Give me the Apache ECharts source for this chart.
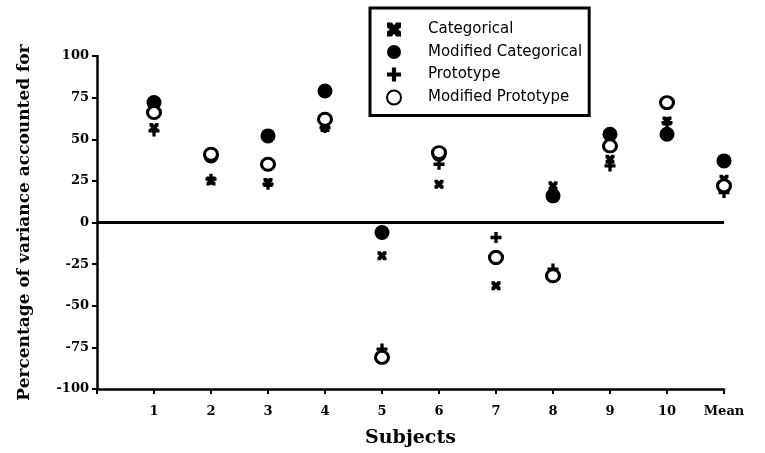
<!DOCTYPE html>
<html>
<head>
<meta charset="utf-8">
<script src="https://cdn.jsdelivr.net/npm/echarts@6/dist/echarts.min.js"></script>
<style>
  html, body { margin: 0; padding: 0; background: #fff; }
  #chart { width: 765px; height: 453px; }
</style>
</head>
<body>
<div id="chart"></div>
<script>
// subjects 1..10 plus the mean (x = 11)
var subjects = ['1', '2', '3', '4', '5', '6', '7', '8', '9', '10', 'Mean'];
var yTicks = [-100, -75, -50, -25, 0, 25, 50, 75, 100];

var categorical    = [57, 25, 24, 57, -20, 23, -38, 22, 38, 61, 26];
var modCategorical = [72, 40, 52, 79, -6, 41, -21, 16, 53, 53, 37];
var prototype      = [55, 26, 23, 57, -76, 35, -9, -28, 34, 60, 18];
var modPrototype   = [66, 41, 35, 62, -81, 42, -21, -32, 46, 72, 22];

var crossX = 'path://M0,0 L3.5,0 L5,2 L6.5,0 L10,0 L10,3.5 L8,5 L10,6.5 L10,10 L6.5,10 L5,8 L3.5,10 L0,10 L0,6.5 L2,5 L0,3.5 Z';
var plus = 'path://M3.5,0 L6.5,0 L6.5,3.5 L10,3.5 L10,6.5 L6.5,6.5 L6.5,10 L3.5,10 L3.5,6.5 L0,6.5 L0,3.5 L3.5,3.5 Z';

function pts(arr) {
    return arr.map(function (v, i) { return [i + 1, v]; });
}

var serif = '"DejaVu Serif", "Liberation Serif", serif';

var option = {
    animation: false,
    backgroundColor: '#fff',
    grid: { left: 97, right: 41, top: 56, bottom: 64 },
    legend: {
        orient: 'vertical',
        left: 370,
        top: 8,
        data: ['Categorical', 'Modified Categorical', 'Prototype', 'Modified Prototype'],
        itemWidth: 30,
        itemHeight: 14,
        itemGap: 7.5,
        padding: [14, 7, 10, 16],
        borderColor: '#000',
        borderWidth: 3,
        borderRadius: 0,
        textStyle: {
            color: '#000',
            fontSize: 15,
            lineHeight: 14,
            fontFamily: '"DejaVu Sans", sans-serif',
            padding: [0, 0, 0, 14]
        }
    },
    xAxis: {
        type: 'value',
        min: 0,
        max: 11,
        interval: 1,
        name: 'Subjects',
        nameLocation: 'middle',
        nameGap: 40,
        nameTextStyle: { color: '#000', fontSize: 19, fontWeight: 'bold', fontFamily: serif },
        axisLine: { onZero: false, lineStyle: { color: '#000', width: 2.5 } },
        axisTick: { inside: false, length: 5, lineStyle: { color: '#000', width: 2 } },
        axisLabel: {
            color: '#000', fontSize: 13, fontWeight: 'bold', fontFamily: serif, margin: 16,
            formatter: function (v) { return v === 0 ? '' : subjects[v - 1]; }
        },
        splitLine: { show: false }
    },
    yAxis: {
        type: 'value',
        min: yTicks[0],
        max: yTicks[yTicks.length - 1],
        interval: 25,
        name: 'Percentage of variance accounted for',
        nameLocation: 'middle',
        nameGap: 64,
        nameTextStyle: { color: '#000', fontSize: 17, fontWeight: 'bold', fontFamily: serif },
        axisLine: { onZero: false, lineStyle: { color: '#000', width: 2.5 } },
        axisTick: { length: 5, lineStyle: { color: '#000', width: 2 } },
        axisLabel: { color: '#000', fontSize: 13, fontWeight: 'bold', fontFamily: serif, margin: 8 },
        splitLine: { show: false }
    },
    series: [
        {
            name: 'Modified Categorical',
            type: 'scatter',
            z: 2,
            symbol: 'circle',
            symbolSize: 15,
            itemStyle: { color: '#000', opacity: 1 },
            data: pts(modCategorical),
            markLine: {
                silent: true,
                symbol: 'none',
                label: { show: false },
                lineStyle: { color: '#000', width: 3, type: 'solid' },
                data: [{ yAxis: 0 }]
            }
        },
        {
            name: 'Categorical',
            type: 'scatter',
            z: 3,
            symbol: crossX,
            symbolSize: 9,
            itemStyle: { color: '#000', opacity: 1 },
            data: pts(categorical)
        },
        {
            name: 'Prototype',
            type: 'scatter',
            z: 4,
            symbol: plus,
            symbolSize: 11,
            itemStyle: { color: '#000', opacity: 1 },
            data: pts(prototype)
        },
        {
            name: 'Modified Prototype',
            type: 'scatter',
            z: 5,
            symbol: 'circle',
            symbolSize: [13, 12],
            itemStyle: { color: '#fff', borderColor: '#000', borderWidth: 3, opacity: 1 },
            data: pts(modPrototype)
        }
    ]
};

var chart = echarts.init(document.getElementById('chart'));
chart.setOption(option, true);
</script>
</body>
</html>
